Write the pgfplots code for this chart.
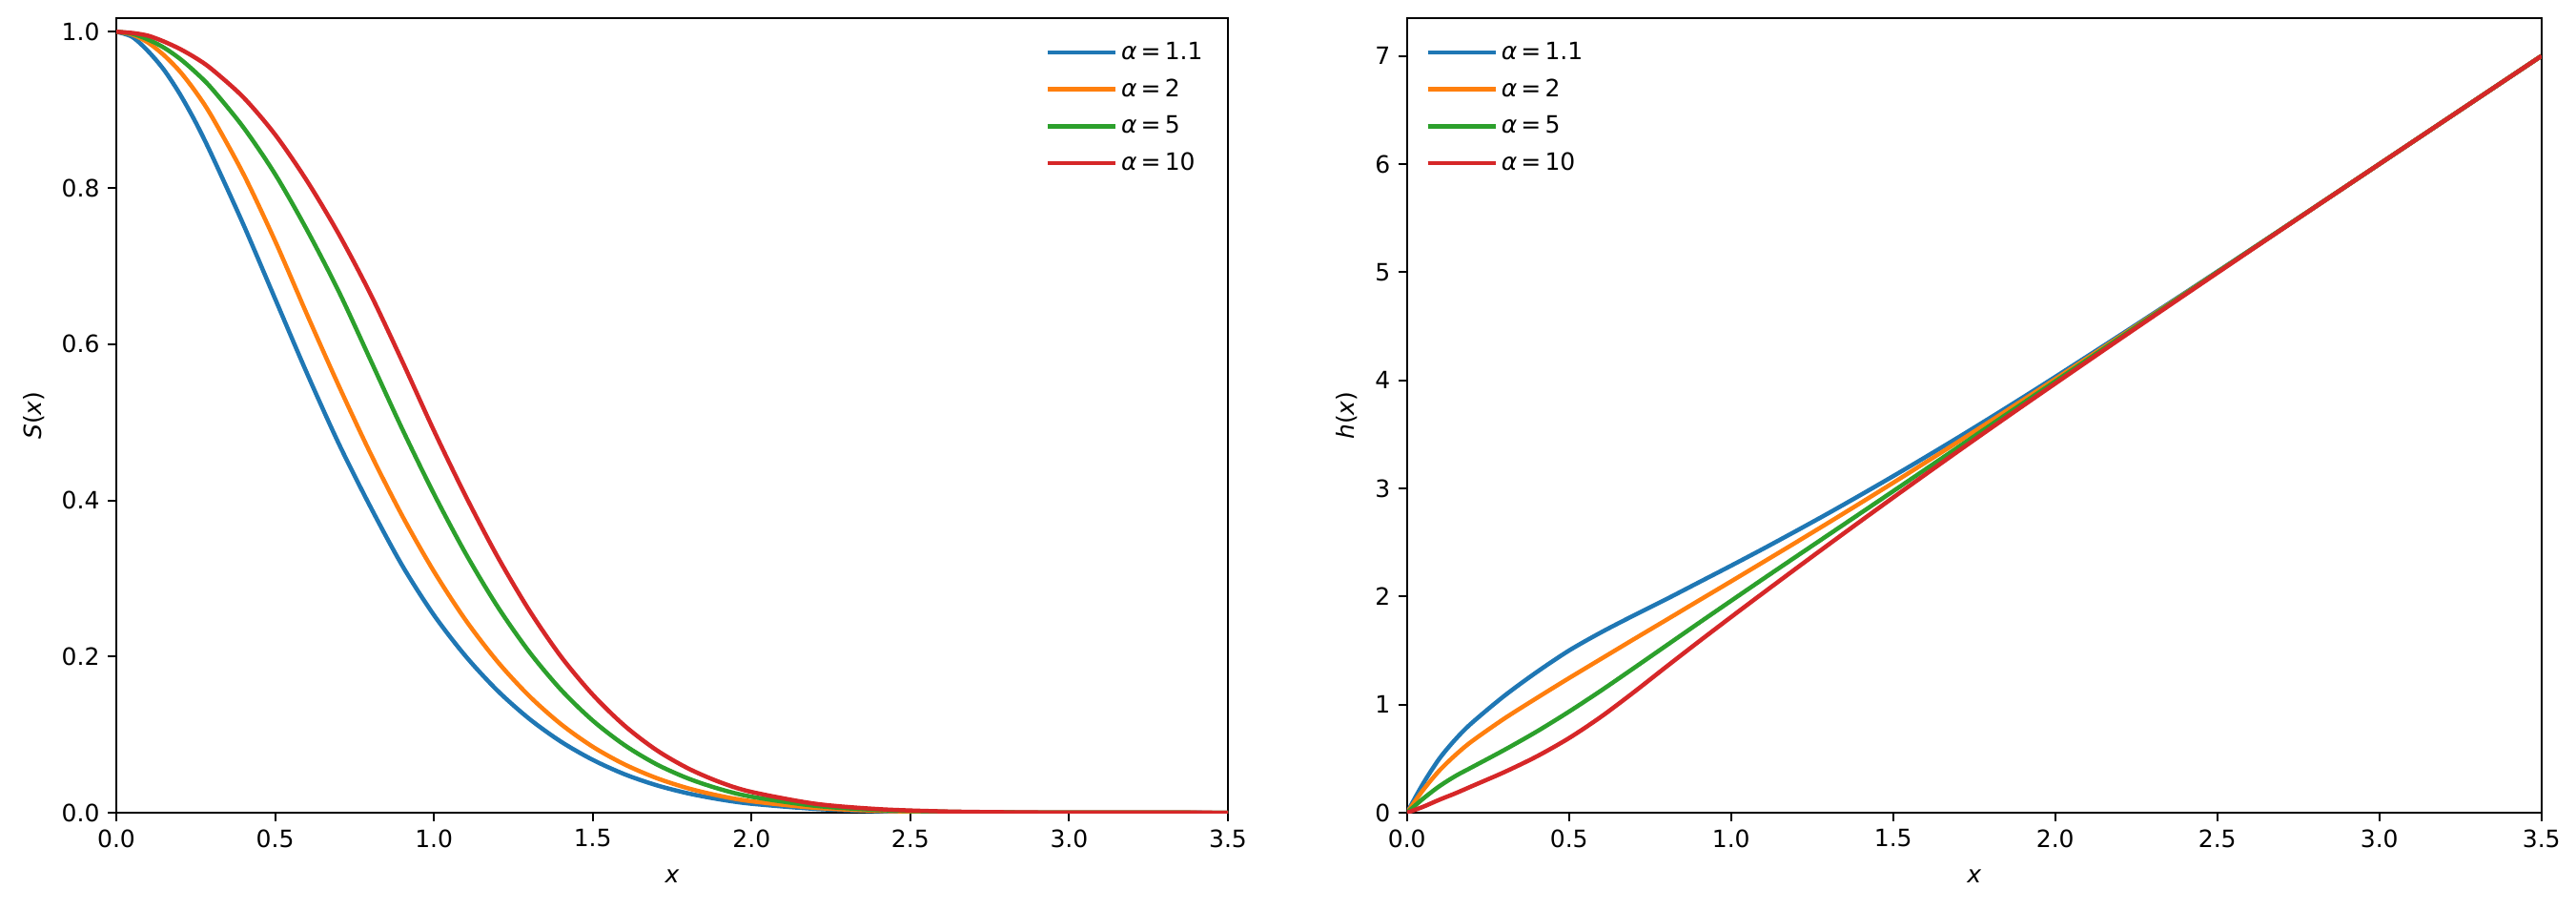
\documentclass[border=0pt]{standalone}
\usepackage{fontspec}
\setmainfont{DejaVu Sans}
\usepackage{pgfplots}
\pgfplotsset{compat=1.18}
\usepackage{pgfplotstable}
\definecolor{tabblue}{HTML}{1F77B4}
\definecolor{taborange}{HTML}{FF7F0E}
\definecolor{tabgreen}{HTML}{2CA02C}
\definecolor{tabred}{HTML}{D62728}

\pgfplotstableread{
x     a11     a2      a5      a10
0.0   1.0000  1.0000  1.0000  1.0000
0.05  0.9935  0.9965  0.9975  0.9985
0.1   0.9752  0.9861  0.9901  0.9950
0.15  0.9513  0.9700  0.9797  0.9875
0.2   0.9204  0.9493  0.9656  0.9781
0.25  0.8840  0.9230  0.9480  0.9665
0.3   0.8426  0.8920  0.9276  0.9523
0.4   0.7533  0.8181  0.8777  0.9161
0.5   0.6581  0.7321  0.8177  0.8684
0.6   0.5630  0.6384  0.7465  0.8093
0.7   0.4730  0.5471  0.6678  0.7413
0.8   0.3918  0.4603  0.5800  0.6644
0.9   0.3167  0.3804  0.4916  0.5783
1.0   0.2531  0.3090  0.4083  0.4893
1.1   0.2004  0.2466  0.3319  0.4055
1.2   0.1564  0.1936  0.2642  0.3281
1.3   0.1203  0.1495  0.2061  0.2593
1.4   0.0910  0.1134  0.1575  0.2000
1.5   0.0677  0.0845  0.1180  0.1512
1.6   0.0493  0.0619  0.0866  0.1115
1.7   0.0353  0.0445  0.0622  0.0804
1.8   0.0248  0.0313  0.0439  0.0568
1.9   0.0171  0.0216  0.0303  0.0392
2.0   0.0115  0.0147  0.0205  0.0266
2.2   0.0050  0.0063  0.0089  0.0115
2.4   0.0020  0.0025  0.0035  0.0046
2.6   0.0007  0.0009  0.0013  0.0017
2.8   0.0002  0.0003  0.0004  0.0006
3.0   0.0001  0.0001  0.0001  0.0002
3.5   0.0000  0.0000  0.0000  0.0000
}\survival

\pgfplotstableread{
x     a11    a2     a5     a10
0.0   0.000  0.000  0.000  0.000
0.05  0.270  0.210  0.130  0.055
0.1   0.500  0.390  0.245  0.120
0.15  0.680  0.535  0.340  0.180
0.2   0.830  0.660  0.420  0.245
0.3   1.080  0.870  0.580  0.375
0.4   1.300  1.060  0.750  0.520
0.5   1.500  1.245  0.935  0.690
0.6   1.670  1.425  1.132  0.890
0.7   1.825  1.605  1.338  1.115
0.8   1.975  1.783  1.546  1.350
0.9   2.130  1.962  1.754  1.582
1.0   2.285  2.140  1.960  1.810
1.1   2.443  2.320  2.165  2.035
1.2   2.605  2.500  2.368  2.258
1.3   2.770  2.682  2.570  2.479
1.4   2.940  2.866  2.772  2.698
1.5   3.113  3.052  2.974  2.915
1.6   3.290  3.240  3.177  3.130
1.7   3.470  3.430  3.380  3.343
1.8   3.654  3.622  3.584  3.554
1.9   3.841  3.816  3.787  3.763
2.0   4.031  4.011  3.990  3.970
2.2   4.417  4.405  4.395  4.382
2.4   4.808  4.802  4.798  4.790
2.6   5.203  5.200  5.200  5.196
2.8   5.601  5.600  5.600  5.599
3.0   6.000  6.000  6.000  6.000
3.5   7.000  7.000  7.000  7.000
}\hazard

\pgfplotsset{
  panel/.style={
    scale only axis,
    height=333.2pt,
    xmin=0, xmax=3.5, ymin=0,
    axis line style={line width=0.8pt},
    every tick/.style={black, line width=0.8pt},
    tick align=outside, tick pos=left,
    major tick length=3.5pt,
    xtick={0,0.5,1,1.5,2,2.5,3,3.5},
    scaled ticks=false,
    /pgf/number format/assume math mode=true,
    xticklabel style={/pgf/number format/fixed, /pgf/number format/fixed zerofill, /pgf/number format/precision=1, font=\fontsize{10}{12}\selectfont},
    yticklabel style={font=\fontsize{10}{12}\selectfont},
    xlabel={\textit{x}},
    every axis x label/.style={at={(axis description cs:0.5,-0.0805)}, anchor=center, font=\fontsize{10}{12}\selectfont},
    legend cell align=left,
    legend image code/.code={\path (0pt,0pt) -- (28.5pt,0pt);\draw[#1, line width=1.8pt] (0pt,0pt) -- (22pt,0pt);},
    every axis plot/.append style={line width=1.8pt, smooth, tension=0.5, no markers},
  }
}

\begin{document}
\begin{tikzpicture}
\path[use as bounding box] (0,0) rectangle (1080.8pt,381.2pt);

\begin{axis}[panel,
  at={(48.8pt,40.4pt)}, anchor=south west,
  width=466.4pt,
  ymax=1.0175,
  ytick={0,0.2,0.4,0.6,0.8,1.0},
  yticklabel style={/pgf/number format/fixed, /pgf/number format/fixed zerofill, /pgf/number format/precision=1},
  ylabel={\textit{S}(\textit{x})},
  every axis y label/.style={at={(axis description cs:-0.0738,0.5)}, rotate=90, anchor=center, font=\fontsize{10}{12}\selectfont},
  legend style={draw=none, fill=none, at={(axis description cs:0.981,0.975)}, anchor=north east,
    font=\fontsize{10}{12}\selectfont, row sep=3.6pt, inner sep=0pt,
    nodes={inner sep=1.5pt}},
]
\addplot[tabblue] table[x=x, y=a11] {\survival};
\addlegendentry{\textit{α}\,=\,1.1}
\addplot[taborange] table[x=x, y=a2] {\survival};
\addlegendentry{\textit{α}\,=\,2}
\addplot[tabgreen] table[x=x, y=a5] {\survival};
\addlegendentry{\textit{α}\,=\,5}
\addplot[tabred] table[x=x, y=a10] {\survival};
\addlegendentry{\textit{α}\,=\,10}
\end{axis}

\begin{axis}[panel,
  at={(590.3pt,40.4pt)}, anchor=south west,
  width=476pt,
  ymax=7.35,
  ytick={0,1,2,3,4,5,6,7},
  ylabel={\textit{h}(\textit{x})},
  every axis y label/.style={at={(axis description cs:-0.053,0.5)}, rotate=90, anchor=center, font=\fontsize{10}{12}\selectfont},
  legend style={draw=none, fill=none, at={(axis description cs:0.016,0.975)}, anchor=north west,
    font=\fontsize{10}{12}\selectfont, row sep=3.6pt, inner sep=0pt,
    nodes={inner sep=1.5pt}},
]
\addplot[tabblue] table[x=x, y=a11] {\hazard};
\addlegendentry{\textit{α}\,=\,1.1}
\addplot[taborange] table[x=x, y=a2] {\hazard};
\addlegendentry{\textit{α}\,=\,2}
\addplot[tabgreen] table[x=x, y=a5] {\hazard};
\addlegendentry{\textit{α}\,=\,5}
\addplot[tabred] table[x=x, y=a10] {\hazard};
\addlegendentry{\textit{α}\,=\,10}
\end{axis}
\end{tikzpicture}
\end{document}
